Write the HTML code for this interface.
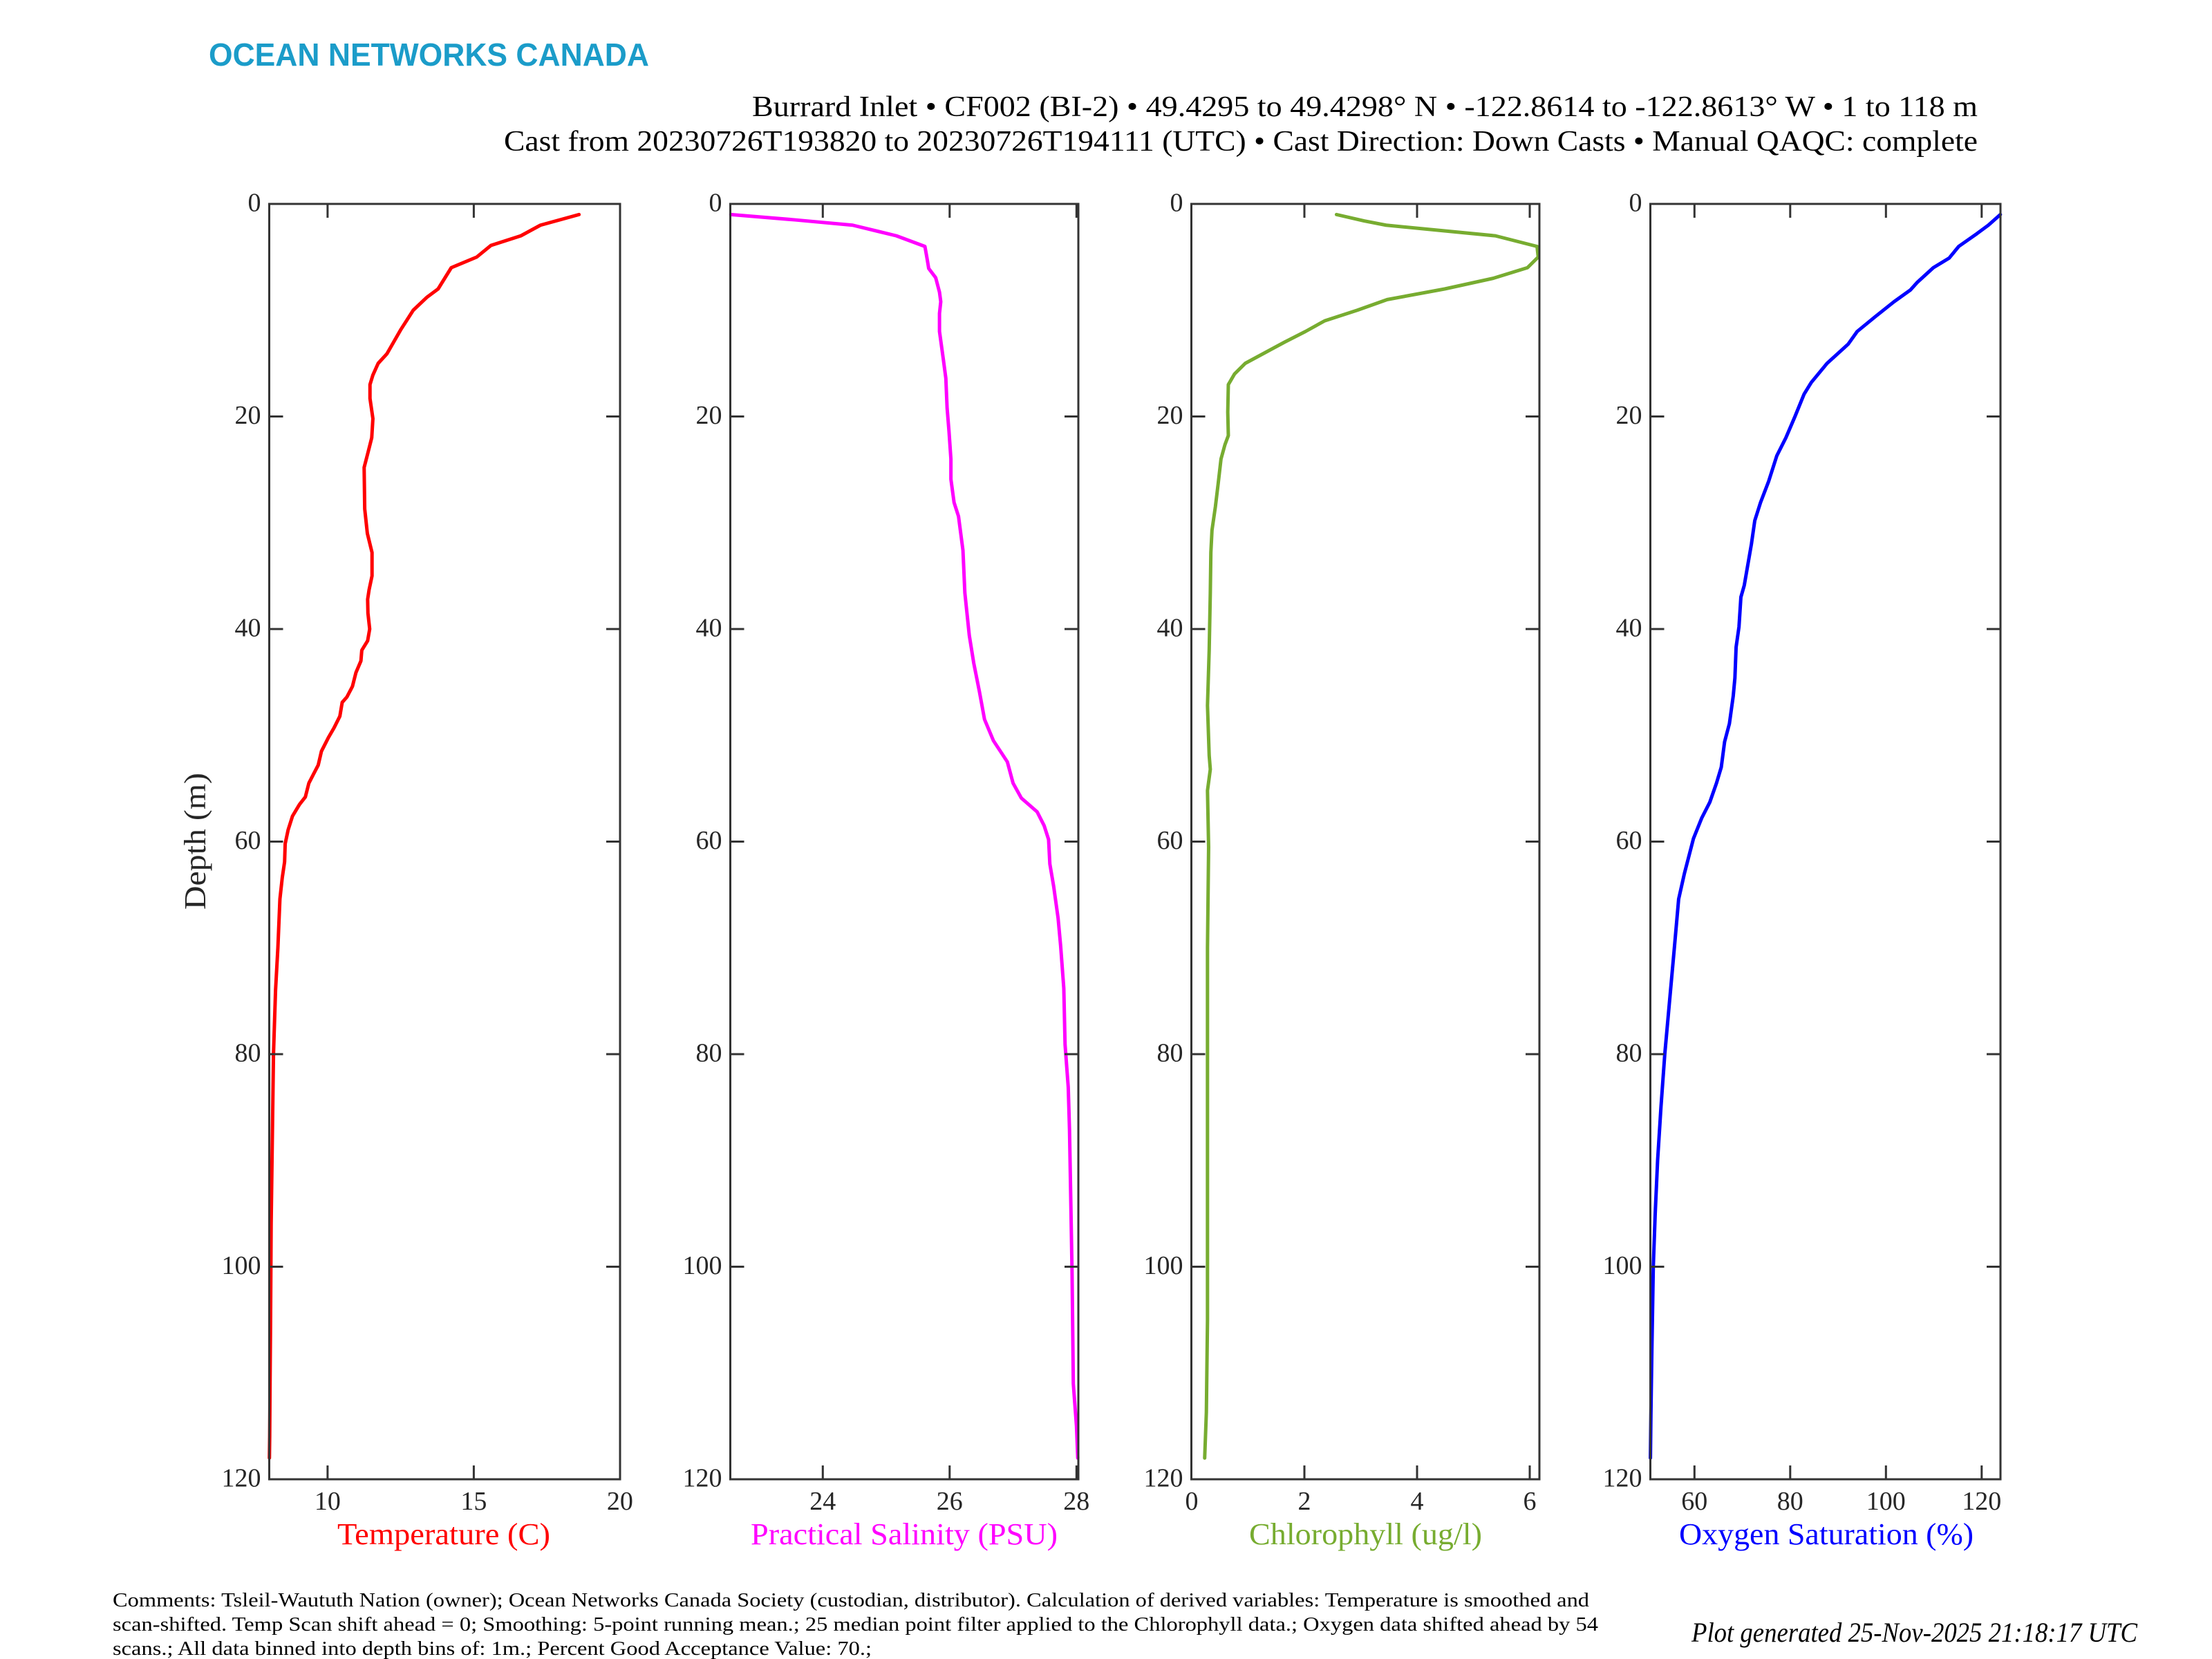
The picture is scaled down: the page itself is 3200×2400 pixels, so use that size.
<!DOCTYPE html>
<html>
<head>
<meta charset="utf-8">
<style>
html,body{margin:0;padding:0;background:#fff}
svg{display:block}
</style>
</head>
<body>
<svg xmlns="http://www.w3.org/2000/svg" width="3200" height="2400" viewBox="0 0 3200 2400">
<rect x="0" y="0" width="3200" height="2400" fill="#ffffff"/>

<!-- Logo -->
<text x="302" y="95" font-family="'Liberation Sans', sans-serif" font-weight="bold" font-size="46" fill="#1b9cc9" textLength="637" lengthAdjust="spacingAndGlyphs">OCEAN NETWORKS CANADA</text>

<!-- Title -->
<g font-family="'Liberation Serif', serif" font-size="42" fill="#000">
<text x="1088" y="168" textLength="1773" lengthAdjust="spacingAndGlyphs">Burrard Inlet • CF002 (BI-2) • 49.4295 to 49.4298° N • -122.8614 to -122.8613° W • 1 to 118 m</text>
<text x="729" y="218" textLength="2132" lengthAdjust="spacingAndGlyphs">Cast from 20230726T193820 to 20230726T194111 (UTC) • Cast Direction: Down Casts • Manual QAQC: complete</text>
</g>

<!-- Data series -->
<g fill="none" stroke-width="5" stroke-linejoin="round" stroke-linecap="round">
<polyline vector-effect="non-scaling-stroke" stroke="#ff0000" transform="translate(50.9,295) scale(42.3,15.375)" points="18.60,1 17.28,2 16.61,3 15.59,3.9 15.10,5 14.23,6 13.78,8 13.39,8.8 12.93,10 12.51,11.8 12.03,14.1 11.73,15 11.55,16.1 11.45,17 11.45,18.3 11.55,20.2 11.51,22 11.40,23.2 11.25,24.8 11.27,28.7 11.36,31 11.52,32.8 11.52,35 11.42,36.3 11.37,37.2 11.38,38.5 11.44,40 11.37,41.1 11.17,42 11.14,43 10.97,44.1 10.85,45.4 10.66,46.4 10.50,46.9 10.42,48.2 10.22,49.3 10.03,50.2 9.79,51.5 9.68,52.8 9.51,53.7 9.36,54.5 9.24,55.8 9.04,56.5 8.80,57.6 8.65,58.9 8.55,60.2 8.53,61.9 8.45,63.4 8.37,65.4 8.30,70 8.22,74 8.15,80 8.11,88 8.07,96 8.05,105 8.03,112 8.02,116 8.01,118"/>
<polyline vector-effect="non-scaling-stroke" stroke="#ff00ff" transform="translate(-1011.7,295) scale(91.75,15.375)" points="22.55,1 23.56,1.5 24.47,2 25.16,3 25.61,4 25.64,5 25.67,6.07 25.78,6.94 25.84,8.3 25.86,9.2 25.84,10.3 25.84,12 25.90,14.6 25.94,16.4 25.96,19.2 25.99,21.4 26.02,24 26.02,25.9 26.07,28.1 26.14,29.4 26.21,32.6 26.24,36.6 26.31,40.6 26.38,43.2 26.47,45.9 26.55,48.5 26.69,50.5 26.91,52.5 27.00,54.5 27.13,55.9 27.38,57.2 27.49,58.5 27.56,59.8 27.58,62.1 27.64,64.2 27.71,67.2 27.75,69.8 27.80,73.8 27.82,79.1 27.87,83.1 27.89,87.1 27.93,100.4 27.95,111 28.00,115 28.02,118"/>
<polyline vector-effect="non-scaling-stroke" stroke="#77ac30" transform="translate(1724,295) scale(81.5,15.375)" points="2.57,1 3.06,1.6 3.45,2 5.39,3 6.13,4 6.15,5 5.96,6 5.35,7 4.49,8 3.47,9 2.94,10 2.36,11 2.02,12 1.65,13 1.30,14 0.95,15 0.76,16 0.65,17 0.64,19.6 0.65,21.8 0.59,22.65 0.52,24 0.47,26.3 0.42,28.5 0.36,30.7 0.34,32.8 0.33,36.6 0.31,42 0.28,47.2 0.31,51.9 0.33,53.2 0.28,55.2 0.30,60.5 0.28,70 0.28,90 0.28,105 0.26,113.7 0.23,118"/>
<polyline vector-effect="non-scaling-stroke" stroke="#0000ff" transform="translate(2035.8,295) scale(6.925,15.375)" points="123.9,1 121.4,2 119.0,2.8 115.2,4 113.2,5.1 109.9,6 106.5,7.4 105.1,8.1 101.7,9.2 97.8,10.6 94.0,12 92.1,13.2 87.7,15 84.4,16.8 82.9,17.9 81.0,20 79.1,22 77.2,23.7 75.5,26.1 73.8,28.1 72.6,29.8 71.9,32 70.4,35.9 69.7,37 69.3,39.8 68.7,41.7 68.45,44.6 68.1,46.3 67.3,48.9 66.3,50.6 65.6,53 64.6,54.5 63.2,56.3 61.5,57.8 59.8,59.7 57.9,63 56.7,65.4 55.8,70 54.8,75 53.8,80 53.0,85 52.3,90 51.8,95 51.4,100 51.1,108 50.9,114 50.8,118"/>
</g>

<!-- Axes frames and ticks -->
<g fill="none" stroke="#333333" stroke-width="3">
<rect x="389.5" y="295" width="507.5" height="1845"/>
<rect x="1056.5" y="295" width="503.5" height="1845"/>
<rect x="1723.5" y="295" width="503.5" height="1845"/>
<rect x="2387.5" y="295" width="506.5" height="1845"/>
<path d="M389.5,602.5h20M389.5,910h20M389.5,1217.5h20M389.5,1525h20M389.5,1832.5h20 M897,602.5h-20M897,910h-20M897,1217.5h-20M897,1525h-20M897,1832.5h-20"/>
<path d="M1056.5,602.5h20M1056.5,910h20M1056.5,1217.5h20M1056.5,1525h20M1056.5,1832.5h20 M1560,602.5h-20M1560,910h-20M1560,1217.5h-20M1560,1525h-20M1560,1832.5h-20"/>
<path d="M1723.5,602.5h20M1723.5,910h20M1723.5,1217.5h20M1723.5,1525h20M1723.5,1832.5h20 M2227,602.5h-20M2227,910h-20M2227,1217.5h-20M2227,1525h-20M2227,1832.5h-20"/>
<path d="M2387.5,602.5h20M2387.5,910h20M2387.5,1217.5h20M2387.5,1525h20M2387.5,1832.5h20 M2894,602.5h-20M2894,910h-20M2894,1217.5h-20M2894,1525h-20M2894,1832.5h-20"/>
<path d="M473.9,295v20M685.4,295v20M473.9,2140v-20M685.4,2140v-20"/>
<path d="M1190.3,295v20M1373.8,295v20M1557.3,295v20M1190.3,2140v-20M1373.8,2140v-20M1557.3,2140v-20"/>
<path d="M1887,295v20M2050,295v20M2213,295v20M1887,2140v-20M2050,2140v-20M2213,2140v-20"/>
<path d="M2451.3,295v20M2589.8,295v20M2728.3,295v20M2866.8,295v20M2451.3,2140v-20M2589.8,2140v-20M2728.3,2140v-20M2866.8,2140v-20"/>
</g>

<!-- Tick labels -->
<g font-family="'Liberation Serif', serif" font-size="38" fill="#262626">
<g text-anchor="end">
<text x="377.5" y="305.5">0</text><text x="377.5" y="613">20</text><text x="377.5" y="920.5">40</text><text x="377.5" y="1228">60</text><text x="377.5" y="1535.5">80</text><text x="377.5" y="1843">100</text><text x="377.5" y="2150.5">120</text>
<text x="1044.5" y="305.5">0</text><text x="1044.5" y="613">20</text><text x="1044.5" y="920.5">40</text><text x="1044.5" y="1228">60</text><text x="1044.5" y="1535.5">80</text><text x="1044.5" y="1843">100</text><text x="1044.5" y="2150.5">120</text>
<text x="1711.5" y="305.5">0</text><text x="1711.5" y="613">20</text><text x="1711.5" y="920.5">40</text><text x="1711.5" y="1228">60</text><text x="1711.5" y="1535.5">80</text><text x="1711.5" y="1843">100</text><text x="1711.5" y="2150.5">120</text>
<text x="2375.5" y="305.5">0</text><text x="2375.5" y="613">20</text><text x="2375.5" y="920.5">40</text><text x="2375.5" y="1228">60</text><text x="2375.5" y="1535.5">80</text><text x="2375.5" y="1843">100</text><text x="2375.5" y="2150.5">120</text>
</g>
<g text-anchor="middle">
<text x="473.9" y="2184">10</text><text x="685.4" y="2184">15</text><text x="896.9" y="2184">20</text>
<text x="1190.3" y="2184">24</text><text x="1373.8" y="2184">26</text><text x="1557.3" y="2184">28</text>
<text x="1724" y="2184">0</text><text x="1887" y="2184">2</text><text x="2050" y="2184">4</text><text x="2213" y="2184">6</text>
<text x="2451.3" y="2184">60</text><text x="2589.8" y="2184">80</text><text x="2728.3" y="2184">100</text><text x="2866.8" y="2184">120</text>
</g>
</g>

<!-- Axis labels -->
<g font-family="'Liberation Serif', serif" font-size="44">
<text x="488" y="2234" fill="#ff0000" textLength="308" lengthAdjust="spacingAndGlyphs">Temperature (C)</text>
<text x="1086" y="2234" fill="#ff00ff" textLength="444" lengthAdjust="spacingAndGlyphs">Practical Salinity (PSU)</text>
<text x="1807" y="2234" fill="#77ac30" textLength="337" lengthAdjust="spacingAndGlyphs">Chlorophyll (ug/l)</text>
<text x="2429" y="2234" fill="#0000ff" textLength="426" lengthAdjust="spacingAndGlyphs">Oxygen Saturation (%)</text>
<text x="0" y="0" fill="#262626" transform="translate(297,1316) rotate(-90)" textLength="198" lengthAdjust="spacingAndGlyphs">Depth (m)</text>
</g>

<!-- Footer -->
<g font-family="'Liberation Serif', serif" font-size="28" fill="#000">
<text x="163" y="2324" textLength="2136" lengthAdjust="spacingAndGlyphs">Comments: Tsleil-Waututh Nation (owner); Ocean Networks Canada Society (custodian, distributor). Calculation of derived variables: Temperature is smoothed and</text>
<text x="163" y="2359" textLength="2149" lengthAdjust="spacingAndGlyphs">scan-shifted. Temp Scan shift ahead = 0; Smoothing: 5-point running mean.; 25 median point filter applied to the Chlorophyll data.; Oxygen data shifted ahead by 54</text>
<text x="163" y="2394" textLength="1098" lengthAdjust="spacingAndGlyphs">scans.; All data binned into depth bins of: 1m.; Percent Good Acceptance Value: 70.;</text>
</g>
<text x="2447" y="2375" font-family="'Liberation Serif', serif" font-style="italic" font-size="40" fill="#000" textLength="645" lengthAdjust="spacingAndGlyphs">Plot generated 25-Nov-2025 21:18:17 UTC</text>
</svg>
</body>
</html>
